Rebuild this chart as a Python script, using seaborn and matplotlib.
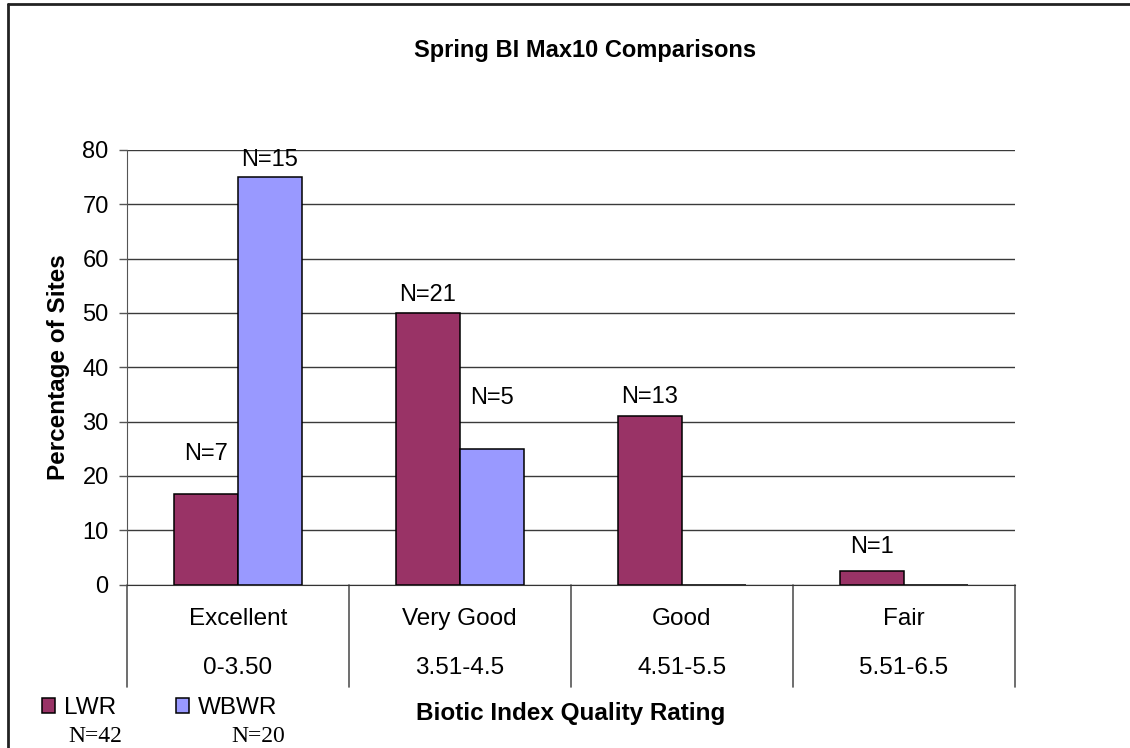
import pandas as pd
import matplotlib
matplotlib.use('Agg')
import matplotlib.pyplot as plt
import matplotlib.transforms as mtransforms
from matplotlib.lines import Line2D
import seaborn as sns

# Chart data
ratings = ['Excellent', 'Very Good', 'Good', 'Fair']
bi_ranges = ['0-3.50', '3.51-4.5', '4.51-5.5', '5.51-6.5']
rivers = ['LWR', 'WBWR']
lwr_pct = [16.7, 50.0, 31.0, 2.4]
wbwr_pct = [75.0, 25.0, 0.0, 0.0]
lwr_counts = ['N=7', 'N=21', 'N=13', 'N=1']
wbwr_counts = ['N=15', 'N=5', '', '']
river_totals = ['N=42', 'N=20']

# where the N= labels sit (in % units), as placed in the original
lwr_label_y = [24.0, 53.3, 34.6, 6.9]
wbwr_label_y = [78.1, 34.3, 0, 0]

colors = {'LWR': '#993366', 'WBWR': '#9999FF'}

df = pd.DataFrame({
    'rating': ratings * 2,
    'river': ['LWR'] * 4 + ['WBWR'] * 4,
    'pct': lwr_pct + wbwr_pct,
})

sns.set_style('white')
plt.rcParams['font.family'] = ['Liberation Sans', 'DejaVu Sans']
plt.rcParams['text.color'] = 'black'
plt.rcParams['ytick.labelcolor'] = 'black'

W, H = 1130, 748
fig = plt.figure(figsize=(W / 100, H / 100), dpi=100)
ax_l, ax_r, ax_t, ax_b = 126.7, 1015, 150, 584.5
ax = fig.add_axes([ax_l / W, 1 - ax_b / H, (ax_r - ax_l) / W, (ax_b - ax_t) / H])

sns.barplot(data=df, x='rating', y='pct', hue='river', order=ratings, hue_order=rivers,
            palette=colors, width=0.578, edgecolor='black', linewidth=1.1,
            saturation=1, ax=ax)

handles, labels = ax.get_legend_handles_labels()
ax.get_legend().remove()

ax.set_xlim(-0.5, len(ratings) - 0.5)
ax.set_ylim(0, 80)
ax.set_yticks(range(0, 81, 10))
ax.yaxis.grid(True, color='#3a3a3a', linewidth=1.0)
ax.set_axisbelow(True)
ax.tick_params(axis='y', left=True, length=6, width=1, color='#555555', pad=7,
               labelsize=17, labelcolor='black')
ax.tick_params(axis='x', bottom=False, labelbottom=False)
ax.set_xlabel('')
ax.set_ylabel('')
for side in ['top', 'right']:
    ax.spines[side].set_visible(False)
ax.spines['left'].set_color('#555555')
ax.spines['bottom'].set_color('#333333')

# N= labels over the bars
for bar, txt, ly in zip(ax.containers[0], lwr_counts, lwr_label_y):
    ax.text(bar.get_x() + bar.get_width() / 2, ly, txt, ha='center', va='center', fontsize=17)
for bar, txt, ly in zip(ax.containers[1], wbwr_counts, wbwr_label_y):
    if txt:
        ax.text(bar.get_x() + bar.get_width() / 2, ly, txt, ha='center', va='center',
                fontsize=17, clip_on=False)

# two-row category axis
trans = mtransforms.blended_transform_factory(ax.transData, ax.transAxes)
sep_bottom = (ax_b - 686.7) / (ax_b - ax_t)
for i in range(len(ratings) + 1):
    ax.add_line(Line2D([i - 0.5, i - 0.5], [0, sep_bottom], transform=trans,
                       color='#555555', linewidth=1.2, clip_on=False))
row1 = (ax_b - 619.3) / (ax_b - ax_t)
row2 = (ax_b - 668.3) / (ax_b - ax_t)
for i, (name, rng) in enumerate(zip(ratings, bi_ranges)):
    ax.text(i, row1, name, transform=trans, ha='center', va='center', fontsize=17.5)
    ax.text(i, row2, rng, transform=trans, ha='center', va='center', fontsize=17.5)

ax.text(0.5, (ax_b - 713.3) / (ax_b - ax_t), 'Biotic Index Quality Rating', transform=ax.transAxes,
        ha='center', va='center', fontsize=17.5, fontweight='bold')
ax.text((58 - ax_l) / (ax_r - ax_l), 0.5, 'Percentage of Sites', transform=ax.transAxes,
        rotation=90, ha='center', va='center', fontsize=17.5, fontweight='bold')

fig.text(585 / W, 1 - 50 / H, 'Spring BI Max10 Comparisons', ha='center', va='center',
         fontsize=17, fontweight='bold')

# legend with the river totals beneath
fig.legend(handles, labels, loc='center left', bbox_to_anchor=(42 / W, 1 - 708 / H),
           ncol=2, frameon=False, fontsize=17.5, handlelength=0.55, handleheight=0.55,
           handletextpad=0.35, columnspacing=2.45, borderaxespad=0, borderpad=0)
for x, txt in zip([95, 258], river_totals):
    fig.text(x / W, 1 - 736 / H, txt, ha='center', va='center', fontsize=17,
             family=['Liberation Serif', 'DejaVu Serif'])

# outer chart border (top and left visible in the original crop)
fig.add_artist(Line2D([8 / W, 1], [1 - 4 / H, 1 - 4 / H], color='#222222', linewidth=2))
fig.add_artist(Line2D([8 / W, 8 / W], [0, 1 - 4 / H], color='#222222', linewidth=2))

fig.savefig('out.png', dpi=100)
